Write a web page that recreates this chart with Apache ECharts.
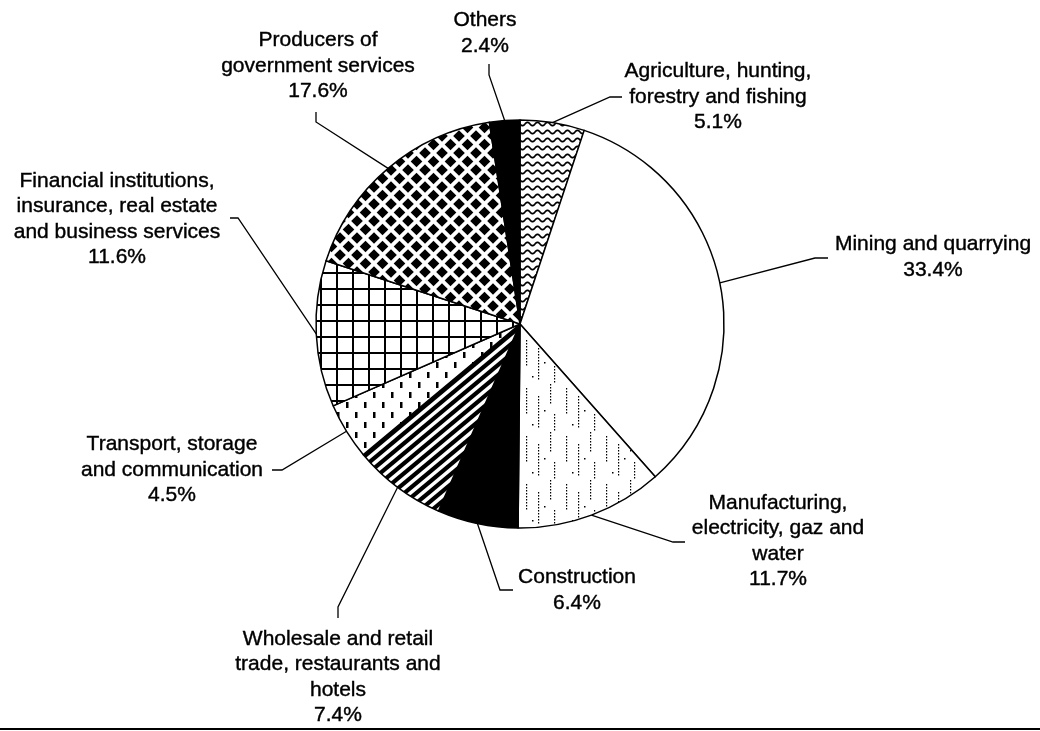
<!DOCTYPE html>
<html>
<head>
<meta charset="utf-8">
<script src="https://cdn.jsdelivr.net/npm/echarts@6/dist/echarts.min.js"></script>
<style>
html, body { margin: 0; padding: 0; background: #fff; }
#chart { width: 1040px; height: 731px; }
</style>
</head>
<body>
<div id="chart"></div>
<script>
// sectors, clockwise from 12 o'clock
var sectors = [
    'Agriculture, hunting,\nforestry and fishing',
    'Mining and quarrying',
    'Manufacturing,\nelectricity, gaz and\nwater',
    'Construction',
    'Wholesale and retail\ntrade, restaurants and\nhotels',
    'Transport, storage\nand communication',
    'Financial institutions,\ninsurance, real estate\nand business services',
    'Producers of\ngovernment services',
    'Others'
];
var shares = [5.1, 33.4, 11.7, 6.4, 7.4, 4.5, 11.6, 17.6, 2.4];

// label placement (text block centre) and leader line elbows
var labelX = [718, 933, 778, 577, 338, 172, 117, 318, 485];
var labelY = [97, 257, 541, 590, 677, 470, 219, 66, 33];
var elbow = [[610, 97], [815, 258], [673, 542], [500, 590], [338, 607], [282, 470], [238, 218], [316, 122], [489, 75]];
var lineEnd = [[622, 97], [828, 258], [685, 542], [513, 590], [338, 618], [272, 470], [230, 218], [316, 112], [489, 64]];

var cx = 520, cy = 324, R = 204;

function tile(w, h, draw) {
    var c = document.createElement('canvas');
    c.width = w; c.height = h;
    var ctx = c.getContext('2d');
    ctx.fillStyle = '#fff';
    ctx.fillRect(0, 0, w, h);
    ctx.fillStyle = '#000';
    ctx.strokeStyle = '#000';
    draw(ctx, w, h);
    return { image: c, repeat: 'repeat' };
}

var waves = tile(10, 8, function (ctx, w, h) {
    ctx.lineWidth = 1.7;
    ctx.beginPath();
    for (var x = -1; x <= w + 1; x += 0.5) {
        var y = 4 + 1.7 * Math.sin(2 * Math.PI * x / w);
        if (x === -1) ctx.moveTo(x, y); else ctx.lineTo(x, y);
    }
    ctx.stroke();
});
var stipple = tile(40, 48, function (ctx) {
    var cols = [[6, 4, 30], [18, 12, 44], [30, 0, 20], [34, 30, 46]];
    cols.forEach(function (c) {
        for (var y = c[1]; y < c[2]; y += 3) ctx.fillRect(c[0], y, 1.2, 1.5);
    });
    ctx.fillRect(24, 26, 1.5, 1.5);
    ctx.fillRect(12, 40, 1.5, 1.5);
});
var stripes = tile(12, 10, function (ctx, w, h) {
    ctx.lineWidth = 4.2;
    for (var k = -1; k <= 1; k++) {
        ctx.beginPath();
        ctx.moveTo(k * w - w, 2 * h);
        ctx.lineTo(k * w + 2 * w, -h);
        ctx.stroke();
    }
});
var dashes = tile(18, 20, function (ctx) {
    ctx.fillRect(4, 2, 2.5, 6);
    ctx.fillRect(13, 12, 2.5, 6);
});
var grid = tile(16, 16, function (ctx) {
    ctx.fillRect(0, 0, 16, 2);
    ctx.fillRect(0, 0, 2, 16);
});
var diamonds = tile(17, 17, function (ctx, w, h) {
    var pts = [[w / 2, h / 2], [0, 0], [w, 0], [0, h], [w, h]];
    var r = 5.8;
    pts.forEach(function (p) {
        ctx.beginPath();
        ctx.moveTo(p[0], p[1] - r);
        ctx.lineTo(p[0] + r, p[1]);
        ctx.lineTo(p[0], p[1] + r);
        ctx.lineTo(p[0] - r, p[1]);
        ctx.closePath();
        ctx.fill();
    });
});

var fills = [waves, '#fff', stipple, '#000', stripes, dashes, grid, diamonds, '#000'];

// point on the rim at the middle of a slice
var total = shares.reduce(function (a, b) { return a + b; }, 0);
function rimPoint(i) {
    var before = 0;
    for (var k = 0; k < i; k++) before += shares[k];
    var a = (before + shares[i] / 2) / total * 2 * Math.PI;
    return [cx + R * Math.sin(a), cy - R * Math.cos(a)];
}

var myChart = echarts.init(document.getElementById('chart'));
var option = {
    backgroundColor: '#fff',
    animation: false,
    graphic: [{
        type: 'line',
        shape: { x1: 0, y1: 729, x2: 1040, y2: 729 },
        style: { stroke: '#000', lineWidth: 2 }
    }],
    series: [{
        type: 'pie',
        center: [cx, cy],
        radius: R,
        startAngle: 90,
        clockwise: true,
        avoidLabelOverlap: false,
        emphasis: { scale: false },
        data: sectors.map(function (name, i) {
            return { name: name, value: shares[i], itemStyle: { color: fills[i] } };
        }),
        itemStyle: { borderColor: '#000', borderWidth: 1.5 },
        label: {
            show: true,
            position: 'outside',
            formatter: function (p) { return p.name + '\n' + p.value.toFixed(1) + '%'; },
            color: '#000',
            fontFamily: 'Liberation Sans',
            fontSize: 21,
            lineHeight: 25.5,
            align: 'center',
            textBorderColor: '#000',
            textBorderWidth: 0.4
        },
        labelLine: {
            show: true,
            lineStyle: { color: '#000', width: 1.3 }
        },
        labelLayout: function (p) {
            var i = p.dataIndex;
            return {
                x: labelX[i],
                y: labelY[i],
                align: 'center',
                verticalAlign: 'middle',
                labelLinePoints: [rimPoint(i), elbow[i], lineEnd[i]]
            };
        }
    }]
};
myChart.setOption(option);
</script>
</body>
</html>
